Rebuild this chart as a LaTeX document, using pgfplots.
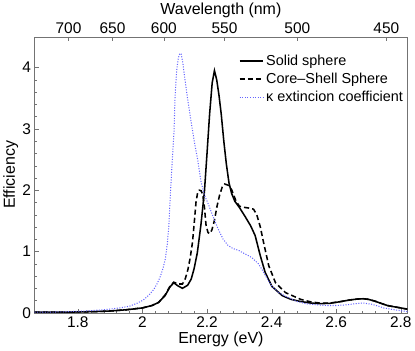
\documentclass[border=0pt]{standalone}
\usepackage{fontspec}
\setmainfont{Liberation Sans}
\usepackage{pgfplots}
\pgfplotsset{compat=1.18}
\definecolor{kblue}{RGB}{100,100,255}

\pgfplotstableread{
E Q
1.666 0.01
1.75 0.01
1.85 0.02
1.90 0.03
1.95 0.05
2.00 0.08
2.03 0.12
2.05 0.17
2.07 0.28
2.085 0.42
2.097 0.49
2.11 0.44
2.124 0.40
2.14 0.45
2.151 0.55
2.16 0.72
2.17 0.98
2.181 1.43
2.192 1.98
2.20 2.60
2.208 3.24
2.216 3.75
2.223 3.95
2.23 3.80
2.237 3.55
2.244 3.24
2.252 2.80
2.26 2.42
2.268 2.12
2.276 1.95
2.286 1.82
2.30 1.72
2.318 1.57
2.335 1.42
2.349 1.26
2.365 0.93
2.38 0.66
2.401 0.43
2.433 0.28
2.46 0.22
2.485 0.19
2.52 0.16
2.548 0.15
2.58 0.155
2.61 0.18
2.642 0.21
2.665 0.225
2.684 0.23
2.70 0.22
2.72 0.19
2.736 0.16
2.758 0.12
2.778 0.10
2.80 0.08
2.82 0.06
}\solid

\pgfplotstableread{
E Q
1.666 0.01
1.75 0.01
1.85 0.02
1.90 0.03
1.95 0.05
2.00 0.08
2.03 0.12
2.05 0.17
2.07 0.29
2.085 0.43
2.097 0.50
2.11 0.47
2.124 0.47
2.133 0.56
2.141 0.71
2.148 0.90
2.155 1.15
2.161 1.50
2.166 1.81
2.171 1.96
2.176 2.00
2.182 1.99
2.187 1.92
2.192 1.72
2.197 1.43
2.203 1.31
2.208 1.29
2.215 1.35
2.223 1.51
2.231 1.74
2.239 1.92
2.247 2.05
2.255 2.10
2.266 2.08
2.276 2.01
2.29 1.82
2.30 1.74
2.315 1.72
2.328 1.71
2.344 1.69
2.354 1.60
2.365 1.40
2.375 1.15
2.391 0.77
2.412 0.49
2.443 0.33
2.49 0.22
2.52 0.18
2.548 0.16
2.58 0.16
2.61 0.18
2.642 0.21
2.665 0.225
2.684 0.23
2.70 0.22
2.72 0.19
2.736 0.16
2.758 0.12
2.778 0.10
2.80 0.08
2.82 0.06
}\shell

\pgfplotstableread{
E Q
1.666 0.01
1.75 0.015
1.825 0.03
1.88 0.05
1.93 0.08
1.961 0.11
1.985 0.16
2.003 0.21
2.02 0.29
2.035 0.38
2.046 0.48
2.056 0.60
2.064 0.73
2.071 0.88
2.077 1.12
2.082 1.43
2.087 1.98
2.092 2.45
2.098 2.97
2.101 3.52
2.106 3.95
2.111 4.15
2.116 4.23
2.12 4.22
2.125 4.08
2.129 3.91
2.139 3.52
2.150 3.14
2.162 2.75
2.171 2.50
2.181 2.15
2.192 1.92
2.202 1.80
2.215 1.62
2.234 1.37
2.25 1.20
2.265 1.10
2.28 1.05
2.297 1.02
2.318 0.96
2.339 0.90
2.359 0.80
2.37 0.71
2.385 0.57
2.401 0.43
2.422 0.33
2.443 0.27
2.475 0.19
2.506 0.15
2.54 0.13
2.569 0.12
2.60 0.12
2.632 0.13
2.66 0.15
2.684 0.16
2.71 0.14
2.73 0.11
2.747 0.08
2.78 0.05
2.82 0.02
}\kappa

\begin{document}
\begin{tikzpicture}
	\pgfplotsset{
		every axis/.append style={
			scale only axis, width=362pt, height=268pt,
			xmin=1.666, xmax=2.82,
			/pgf/number format/assume math mode=true,
			tick label style={font=\fontsize{15}{17}\selectfont, black},
			label style={font=\fontsize{15.5}{17}\selectfont},
			axis line style={black!55},
			major tick style={black!55}, minor tick style={black!55},
			tick align=inside, major tick length=4pt, minor tick length=2pt,
		}
	}
	\begin{axis}[
		ymin=0, ymax=4.5,
		xtick={1.8,2,2.2,2.4,2.6,2.8},
		xticklabels={1.8,2,2.2,2.4,2.6,2.8},
		ytick={0,1,2,3,4},
		minor x tick num=4, minor y tick num=4,
		xtick pos=bottom, ytick pos=left,
		xlabel={Energy (eV)}, ylabel={Efficiency},
		xlabel style={yshift=2pt}, ylabel style={yshift=-3pt},
		legend style={draw=none, fill=none, at={(rel axis cs:1,0.95)}, anchor=north east,
			font=\fontsize{14}{15}\selectfont, row sep=2pt, inner sep=2pt},
		legend cell align=left,
		legend image code/.code={\draw[#1] (0pt,0pt) -- (23pt,0pt);},
	]
		\addplot[black, line width=1.5pt] table[x=E, y=Q] {\solid};
		\addlegendentry{Solid sphere}
		\addplot[black, line width=1.5pt, dash pattern=on 5pt off 3pt] table[x=E, y=Q] {\shell};
		\addlegendentry{Core{\char"2013}Shell Sphere}
		\addplot[kblue, line width=1pt, dash pattern=on 1pt off 1.5pt] table[x=E, y=Q] {\kappa};
		\addlegendentry{κ extincion coefficient}
	\end{axis}
	\begin{axis}[
		ymin=0, ymax=4.5,
		axis x line*=top, axis y line=none,
		xtick={1.77120,1.90745,2.06640,2.25425,2.47968,2.75520},
		xticklabels={700,650,600,550,500,450},
		xlabel={Wavelength (nm)},
		xlabel style={yshift=-3pt},
	]
		\addplot[draw=none] coordinates {(2,1)};
	\end{axis}
\end{tikzpicture}
\end{document}
